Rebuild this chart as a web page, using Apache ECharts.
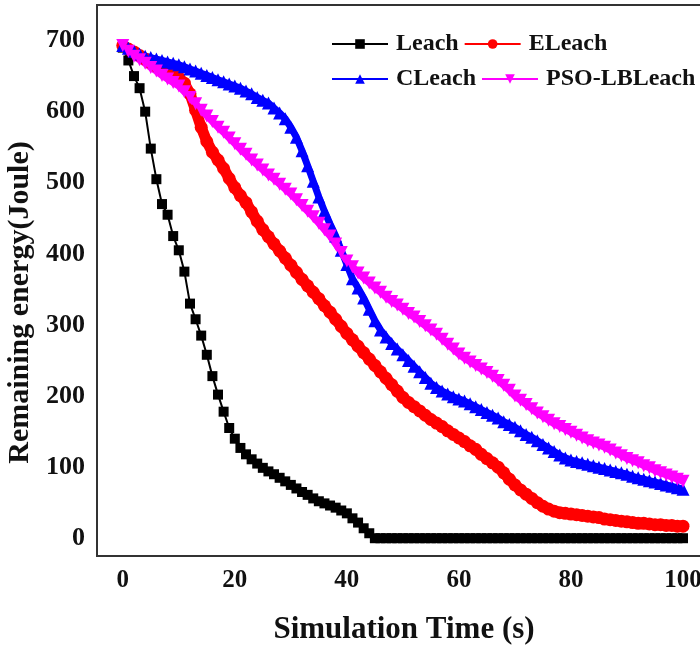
<!DOCTYPE html>
<html>
<head>
<meta charset="utf-8">
<script src="https://cdn.jsdelivr.net/npm/echarts@6/dist/echarts.min.js"></script>
<style>
  html, body { margin: 0; padding: 0; background: #fff; }
  #chart { width: 700px; height: 649px; }
</style>
</head>
<body>
<div id="chart"></div>
<script>
// simulation time steps 0..100 s, remaining energy in Joule
var leach = [690, 672, 650, 633, 600, 548, 505, 470, 455, 425,
    405, 375, 330, 308, 285, 258, 228, 202, 178, 155,
    140, 127, 118, 111, 105, 99, 94, 90, 85, 80,
    75, 70, 65, 61, 56, 52, 49, 46, 43, 39,
    35, 28, 22, 14, 7, 0, 0, 0, 0, 0,
    0, 0, 0, 0, 0, 0, 0, 0, 0, 0,
    0, 0, 0, 0, 0, 0, 0, 0, 0, 0,
    0, 0, 0, 0, 0, 0, 0, 0, 0, 0,
    0, 0, 0, 0, 0, 0, 0, 0, 0, 0,
    0, 0, 0, 0, 0, 0, 0, 0, 0, 0,
    0];
var eleach = [693, 688, 684, 679, 674, 669, 664, 660, 657, 654,
    648, 640, 625, 602, 578, 558, 543, 532, 520, 506,
    493, 482, 472, 459, 446, 434, 424, 414, 404, 394,
    384, 374, 364, 355, 346, 337, 327, 318, 308, 298,
    288, 279, 270, 261, 252, 243, 234, 225, 216, 207,
    198, 191, 185, 179, 173, 167, 162, 157, 151, 146,
    141, 136, 130, 125, 118, 112, 106, 100, 92, 83,
    75, 68, 62, 56, 50, 45, 41, 38, 36, 35,
    34, 33, 32, 31, 30, 29, 27, 26, 25, 24,
    23, 22, 21, 21, 20, 19, 19, 18, 18, 17,
    17];
var cleach = [693, 689, 685, 681, 678, 676, 674, 672, 670, 668,
    666, 663, 660, 657, 654, 651, 648, 645, 642, 639,
    636, 633, 629, 625, 620, 616, 612, 605, 598, 590,
    578, 564, 545, 524, 502, 480, 460, 442, 425, 405,
    385, 365, 352, 338, 322, 306, 293, 283, 274, 266,
    258, 250, 242, 234, 226, 218, 212, 207, 203, 199,
    196, 193, 189, 185, 181, 177, 173, 169, 164, 160,
    156, 151, 146, 142, 137, 132, 127, 122, 117, 113,
    110, 108, 106, 104, 102, 100, 98, 96, 94, 92,
    90, 87, 85, 83, 81, 79, 77, 75, 73, 71,
    69];
var psoLbLeach = [693, 685, 678, 673, 668, 662, 657, 651, 646, 641,
    636, 628, 620, 611, 602, 594, 586, 578, 571, 563,
    555, 547, 540, 532, 525, 518, 511, 505, 498, 491,
    484, 476, 468, 460, 452, 443, 434, 425, 414, 402,
    390, 382, 373, 366, 359, 352, 346, 339, 333, 328,
    322, 316, 311, 305, 299, 293, 287, 280, 273, 266,
    259, 253, 248, 243, 238, 233, 228, 222, 215, 208,
    200, 194, 188, 182, 176, 171, 166, 161, 157, 153,
    149, 145, 141, 137, 134, 131, 128, 124, 120, 116,
    112, 109, 106, 102, 99, 95, 92, 89, 86, 83,
    80];
var xTicks = [0, 20, 40, 60, 80, 100];
var yTicks = [0, 100, 200, 300, 400, 500, 600, 700];

var font = "'Liberation Serif', 'Times New Roman', serif";

function pairs(vals) {
    var out = [];
    for (var i = 0; i < vals.length; i++) {
        out.push([i, vals[i]]);
    }
    return out;
}

var myChart = echarts.init(document.getElementById('chart'), null, { renderer: 'canvas' });

var legendText = { fontFamily: font, fontWeight: 'bold', fontSize: 24, color: '#111', padding: [0, 0, 0, 3] };

var option = {
    animation: false,
    backgroundColor: '#fff',
    textStyle: { fontFamily: font },
    grid: {
        left: 97,
        width: 614,
        top: 5,
        bottom: 93,
        outerBoundsMode: 'none',
        show: true,
        borderColor: '#333',
        borderWidth: 2
    },
    legend: [{
        left: 326,
        top: 27,
        width: 380,
        itemWidth: 56,
        itemHeight: 12,
        itemGap: 5,
        data: ['Leach', 'ELeach'],
        textStyle: legendText
    }, {
        left: 326,
        top: 62,
        width: 380,
        itemWidth: 56,
        itemHeight: 12,
        itemGap: 5,
        data: ['CLeach', 'PSO-LBLeach'],
        textStyle: legendText
    }],
    xAxis: {
        type: 'value',
        min: -4.6,
        max: 105,
        name: 'Simulation Time (s)',
        nameLocation: 'middle',
        nameGap: 58,
        nameTextStyle: { fontFamily: font, fontWeight: 'bold', fontSize: 31, color: '#111' },
        axisLine: { show: true, onZero: false, lineStyle: { color: '#333', width: 2 } },
        axisTick: { show: false },
        splitLine: { show: false },
        axisLabel: {
            customValues: xTicks,
            margin: 12,
            fontFamily: font,
            fontWeight: 'bold',
            fontSize: 25,
            color: '#111'
        }
    },
    yAxis: {
        type: 'value',
        min: -25,
        max: 750,
        name: 'Remaining energy(Joule)',
        nameLocation: 'middle',
        nameGap: 58,
        nameTextStyle: { fontFamily: font, fontWeight: 'bold', fontSize: 30, color: '#111', padding: [0, 44, 0, 0] },
        axisLine: { show: true, onZero: false, lineStyle: { color: '#333', width: 2 } },
        axisTick: { show: false },
        splitLine: { show: false },
        axisLabel: {
            customValues: yTicks,
            margin: 12,
            fontFamily: font,
            fontWeight: 'bold',
            fontSize: 26,
            color: '#111'
        }
    },
    series: [{
        name: 'Leach',
        type: 'line',
        data: pairs(leach),
        symbol: 'rect',
        symbolSize: 10,
        showAllSymbol: true,
        color: '#000',
        lineStyle: { color: '#000', width: 2 },
        itemStyle: { color: '#000' }
    }, {
        name: 'ELeach',
        type: 'line',
        data: pairs(eleach),
        symbol: 'circle',
        symbolSize: 13,
        showAllSymbol: true,
        color: '#ff0000',
        lineStyle: { color: '#ff0000', width: 11 },
        itemStyle: { color: '#ff0000' }
    }, {
        name: 'CLeach',
        type: 'line',
        data: pairs(cleach),
        symbol: 'triangle',
        symbolSize: 13,
        showAllSymbol: true,
        color: '#0000ff',
        lineStyle: { color: '#0000ff', width: 7 },
        itemStyle: { color: '#0000ff' }
    }, {
        name: 'PSO-LBLeach',
        type: 'line',
        data: pairs(psoLbLeach),
        symbol: 'triangle',
        symbolRotate: 180,
        symbolSize: 13,
        showAllSymbol: true,
        color: '#ff00ff',
        lineStyle: { color: '#ff00ff', width: 7 },
        itemStyle: { color: '#ff00ff' }
    }]
};
myChart.setOption(option);
</script>
</body>
</html>
